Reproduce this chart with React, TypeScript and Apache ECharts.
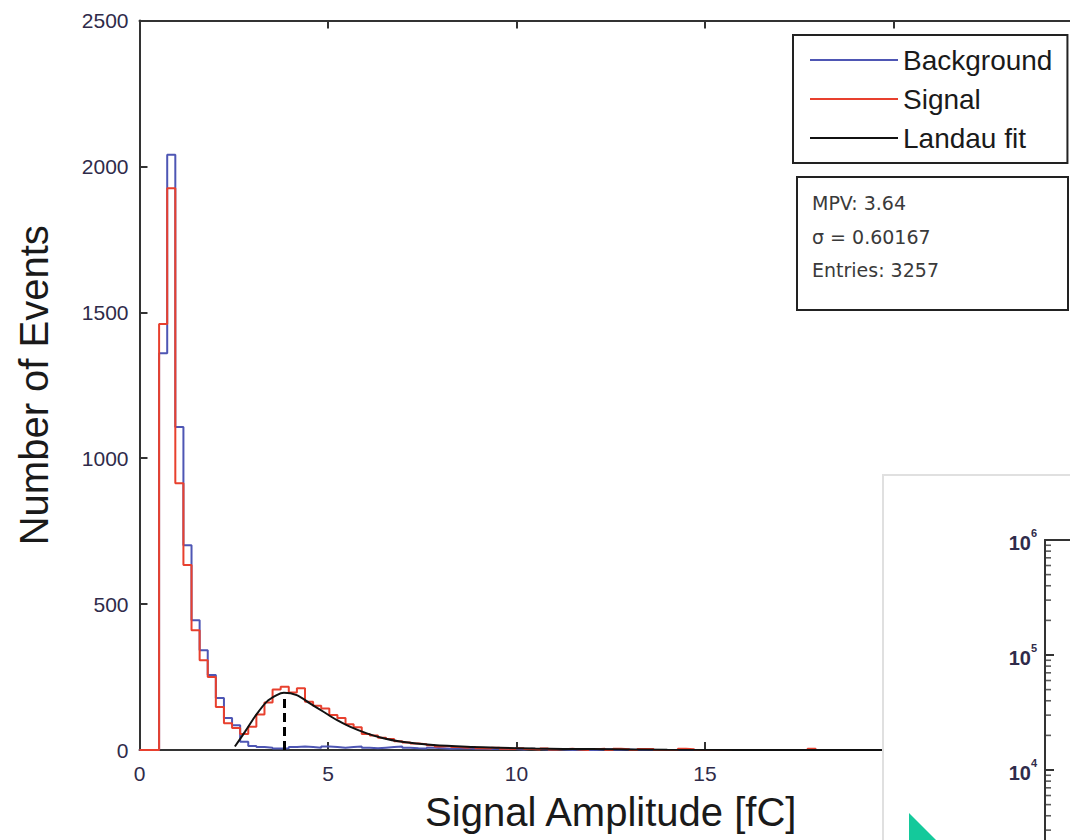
import React, { useEffect, useRef } from "react";
import * as echarts from "echarts";

// ---- data ----
const binStart = 0.52; // fC, left edge of first filled bin
const binWidth = 0.215; // fC

const backgroundCounts = [
  1360, 2040, 1107, 702, 445, 342, 257, 178, 110, 85,
  28, 14, 10, 8, 5, 6, 10, 12, 10, 8,
  12, 10, 8, 10, 12, 8, 6, 8, 10, 12,
  8, 6, 5, 8, 6, 4, 5, 6, 4, 5,
  3, 4, 5, 3, 2, 4, 3, 2, 3, 2,
  0, 2, 3, 0, 2, 3, 0, 2, 0, 0,
];

const signalCounts = [
  1460, 1925, 914, 634, 410, 308, 250, 147, 92, 75,
  55, 80, 122, 163, 207, 217, 197, 212, 165, 152,
  142, 120, 110, 88, 78, 55, 50, 42, 38, 30,
  26, 22, 20, 16, 12, 14, 10, 8, 10, 6,
  5, 8, 4, 3, 6, 3, 2, 5, 2, 3,
  4, 2, 0, 3, 4, 0, 4, 3, 0, 3,
  3, 0, 0, 0, 4, 3, 0, 0, 0, 0,
  0, 0, 0, 0, 0, 0, 0, 0, 0, 0,
  4,
];

const fitX = [2.53, 2.8, 3.06, 3.37, 3.64, 3.83, 4.17, 4.52, 4.88, 5.23, 5.58, 6.03, 6.47, 6.91, 7.79, 8.68, 9.56, 10.5, 12, 14, 18, 25];
const fitY = [12, 63, 114, 165, 188, 196, 188, 160, 131, 103, 80, 57, 40, 29, 17, 11, 8, 5, 3, 1, 0, 0];

const mpvLineX = 3.83;
const mpvLineTop = 190;

const xTicks = { min: 0, max: 25, interval: 5 };
const yTicks = { min: 0, max: 2500, interval: 500 };

const statsLines = ["MPV: 3.64", "\u03c3 = 0.60167", "Entries: 3257"];

const insetLogMin = 1000;
const insetLogMax = 1000000;
const insetMinorMultipliers = [2, 3, 4, 5, 6, 7, 8, 9];
const insetDecades = [1000, 10000, 100000];

function stepData(counts: number[]) {
  const pts: number[][] = [[0, 0]];
  counts.forEach((c, i) => pts.push([+(binStart + i * binWidth).toFixed(4), c]));
  pts.push([+(binStart + counts.length * binWidth).toFixed(4), 0]);
  pts.push([xTicks.max, 0]);
  return pts;
}

const SANS = "'Liberation Sans', Arial, sans-serif";
const NARROW = "'Liberation Sans Narrow', 'Liberation Sans', Arial, sans-serif";
const LABEL_COLOR = "#2f2b4a";

export default function App() {
  const ref = useRef<HTMLDivElement>(null);

  useEffect(() => {
    if (!ref.current) return;
    const chart = echarts.init(ref.current, null, { renderer: "svg" });

    const minorTicks: number[][] = [];
    insetDecades.forEach((d) => insetMinorMultipliers.forEach((m) => minorTicks.push([0, m * d])));

    const option: any = {
      animation: false,
      backgroundColor: "#ffffff",
      grid: [
        { left: 139.5, top: 20.5, width: 942.5, height: 729.5 },
        { left: 1045, top: 540, width: 100, height: 345 },
      ],
      legend: {
        orient: "vertical",
        left: 793,
        top: 35,
        padding: [10, 15, 10, 17],
        itemGap: 9,
        itemWidth: 88,
        itemHeight: 2,
        icon: "rect",
        borderColor: "#222",
        borderWidth: 2,
        backgroundColor: "#fff",
        textStyle: { fontSize: 28, lineHeight: 30, fontFamily: SANS, color: "#1a1a1a" },
        data: ["Background", "Signal", "Landau fit"],
      },
      xAxis: [
        {
          gridIndex: 0,
          type: "value",
          min: xTicks.min,
          max: xTicks.max,
          interval: xTicks.interval,
          name: "Signal Amplitude [fC]",
          nameLocation: "middle",
          nameGap: 42,
          nameTextStyle: { fontSize: 40, fontFamily: SANS, color: "#1a1a1a" },
          axisLine: { lineStyle: { color: "#333", width: 2 } },
          axisTick: { inside: true, length: 8, lineStyle: { color: "#333", width: 2 } },
          axisLabel: {
            fontSize: 21,
            fontFamily: SANS,
            color: LABEL_COLOR,
            margin: 13,
            formatter: (v: number) => (v >= xTicks.max ? "" : String(v)),
          },
          splitLine: { show: false },
        },
        {
          gridIndex: 0,
          type: "value",
          position: "top",
          min: xTicks.min,
          max: xTicks.max,
          interval: xTicks.interval,
          axisLine: { lineStyle: { color: "#333", width: 2 } },
          axisTick: { inside: true, length: 8, lineStyle: { color: "#333", width: 2 } },
          axisLabel: { show: false },
          splitLine: { show: false },
        },
        {
          gridIndex: 1,
          type: "value",
          position: "top",
          min: 0,
          max: 1,
          z: 10,
          axisLine: { lineStyle: { color: "#333", width: 2 } },
          axisTick: { show: false },
          axisLabel: { show: false },
          splitLine: { show: false },
        },
      ],
      yAxis: [
        {
          gridIndex: 0,
          type: "value",
          min: yTicks.min,
          max: yTicks.max,
          interval: yTicks.interval,
          name: "Number of Events",
          nameLocation: "middle",
          nameGap: 86,
          nameTextStyle: { fontSize: 40, fontFamily: SANS, color: "#1a1a1a" },
          axisLine: { lineStyle: { color: "#333", width: 2 } },
          axisTick: { inside: true, length: 8, lineStyle: { color: "#333", width: 2 } },
          axisLabel: { fontSize: 21, fontFamily: SANS, color: LABEL_COLOR, margin: 11, formatter: (v: number) => String(v) },
          splitLine: { show: false },
        },
        {
          gridIndex: 1,
          type: "log",
          logBase: 10,
          min: insetLogMin,
          max: insetLogMax,
          z: 10,
          axisLine: { lineStyle: { color: "#333", width: 2 } },
          axisTick: { inside: true, length: 9, lineStyle: { color: "#333", width: 2 } },
          axisLabel: {
            margin: 8,
            formatter: (v: number) => (v < 5000 ? "" : `{a|10}{b|${Math.round(Math.log10(v))}}`),
            rich: {
              a: { fontSize: 20, fontWeight: "bold", fontFamily: NARROW, color: LABEL_COLOR, lineHeight: 26, verticalAlign: "bottom" },
              b: { fontSize: 11, fontWeight: "bold", fontFamily: NARROW, color: LABEL_COLOR, lineHeight: 26, verticalAlign: "top" },
            },
          },
          splitLine: { show: false },
        },
      ],
      series: [
        {
          name: "Background",
          type: "line",
          xAxisIndex: 0,
          yAxisIndex: 0,
          step: "end",
          symbol: "none",
          color: "#4e56b4",
          lineStyle: { width: 2, color: "#4e56b4" },
          data: stepData(backgroundCounts),
          z: 2,
        },
        {
          name: "Signal",
          type: "line",
          xAxisIndex: 0,
          yAxisIndex: 0,
          step: "end",
          symbol: "none",
          color: "#e8402e",
          lineStyle: { width: 2, color: "#e8402e" },
          data: stepData(signalCounts),
          z: 3,
        },
        {
          name: "Landau fit",
          type: "line",
          xAxisIndex: 0,
          yAxisIndex: 0,
          smooth: 0.3,
          symbol: "none",
          color: "#111",
          lineStyle: { width: 2, color: "#111" },
          data: fitX.map((x, i) => [x, fitY[i]]),
          z: 4,
          markLine: {
            silent: true,
            symbol: "none",
            label: { show: false },
            lineStyle: { color: "#000", width: 3, type: [9, 5] },
            data: [[{ coord: [mpvLineX, 0] }, { coord: [mpvLineX, mpvLineTop] }]],
          },
        },
        {
          name: "inset minor ticks",
          type: "scatter",
          xAxisIndex: 2,
          yAxisIndex: 1,
          symbol: "rect",
          symbolSize: [5, 1.6],
          symbolOffset: [3.5, 0],
          itemStyle: { color: "#333" },
          data: minorTicks,
          z: 12,
          silent: true,
        },
      ],
      graphic: [
        {
          type: "rect",
          z: 5,
          shape: { x: 883, y: 475, width: 260, height: 460 },
          style: { fill: "#ffffff", stroke: "#e0e0e0", lineWidth: 2 },
        },
        {
          type: "polygon",
          z: 20,
          shape: { points: [[909, 813], [909, 850], [946, 850]] },
          style: { fill: "#14c99b" },
        },
        {
          type: "rect",
          z: 6,
          shape: { x: 797, y: 177, width: 271, height: 133 },
          style: { fill: "#ffffff", stroke: "#222", lineWidth: 2 },
        },
        ...statsLines.map((t, i) => ({
          type: "text",
          z: 7,
          x: 812,
          y: 203 + i * 33.5,
          style: {
            text: t,
            fontSize: 19,
            fontFamily: "'DejaVu Sans', sans-serif",
            fill: "#3a3a3a",
            verticalAlign: "middle",
            align: "left",
          },
        })),
      ],
    };

    chart.setOption(option);
    return () => chart.dispose();
  }, []);

  return (
    <div style={{ position: "fixed", left: 0, top: 0, width: 1070, height: 840, overflow: "hidden", background: "#fff" }}>
      <div ref={ref} style={{ width: 1100, height: 900 }} />
    </div>
  );
}
